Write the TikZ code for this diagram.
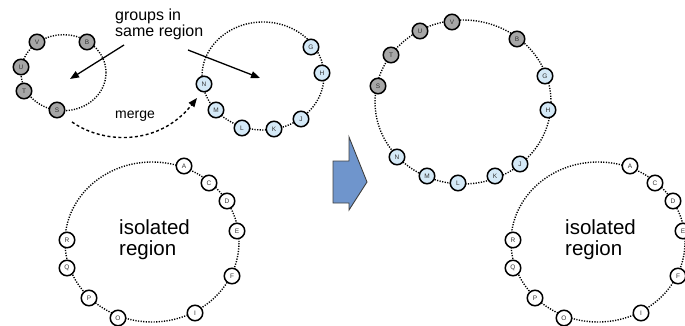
\documentclass[tikz,border=0pt]{standalone}
\usepackage{fontspec}
\setmainfont{Liberation Sans}
\usetikzlibrary{arrows.meta}
\definecolor{grpgray}{HTML}{A6A6A6}
\definecolor{grpblue}{HTML}{D4E9F7}
\definecolor{blockblue}{HTML}{6F95CC}
\tikzset{
  member/.style={circle, draw=black, line width=1.5pt, minimum size=15.5pt, inner sep=0pt,
    fill=white, text=black!80, font=\fontsize{6.5}{6.5}\selectfont},
  graymember/.style={member, fill=grpgray},
  bluemember/.style={member, fill=grpblue},
  ring/.style={line width=1.4pt, dash pattern=on 1.2pt off 1.4pt},
  pointer/.style={line width=1.3pt, -{Triangle[length=9pt,width=7pt]}},
  mergearrow/.style={line width=1.4pt, dash pattern=on 3pt off 2.5pt, -{Triangle[length=9pt,width=7pt]}},
  label/.style={inner sep=0pt, align=left},
}
\begin{document}
\begin{tikzpicture}[x=1pt,y=1pt]
\useasboundingbox (0,0) rectangle (685,-326);
\clip (0,0) rectangle (685,-326);

% ---- before the merge: two groups sharing a region ----
\draw[ring] (63.5,-72.7) ellipse [x radius=42.5, y radius=38];
\node[graymember] (V1) at (37,-42) {V};
\node[graymember] (B1) at (87,-42) {B};
\node[graymember] (U1) at (21,-67) {U};
\node[graymember] (T1) at (24,-91) {T};
\node[graymember] (S1) at (57,-110) {S};

\draw[ring] (263,-76) ellipse [x radius=61, y radius=54];
\node[bluemember] (G1) at (311,-47) {G};
\node[bluemember] (H1) at (322,-73) {H};
\node[bluemember] (J1) at (301,-119) {J};
\node[bluemember] (K1) at (274,-129) {K};
\node[bluemember] (L1) at (242,-128) {L};
\node[bluemember] (M1) at (216,-110) {M};
\node[bluemember] (N1) at (204,-84) {N};

\node[label, anchor=north west, font=\fontsize{16}{16}\selectfont] (groupstxt) at (115,-9) {groups in\\same region};
\coordinate (p1a) at (124,-45);
\coordinate (p1b) at (70,-79);
\coordinate (p2a) at (188,-50);
\coordinate (p2b) at (260,-78);
\draw[pointer] (p1a) -- (p1b);
\draw[pointer] (p2a) -- (p2b);

\node[label, anchor=base west, font=\fontsize{14}{14}\selectfont] (mergetxt) at (115,-118.3) {merge};
\coordinate (mstart) at (72,-122);
\coordinate (mend) at (197,-98);
\draw[mergearrow] (mstart) .. controls (105,-145) and (160,-145) .. (mend);

% ---- isolated region (left) ----
\begin{scope}[shift={(0,0)}]
\draw[ring] (152,-242) ellipse [x radius=87, y radius=80];
\node[member] (A1) at (184,-166) {A};
\node[member] (C1) at (209,-183) {C};
\node[member] (D1) at (227,-201) {D};
\node[member] (E1) at (237,-231) {E};
\node[member] (F1) at (232,-276) {F};
\node[member] (I1) at (195,-313) {I};
\node[member] (O1) at (118,-318) {O};
\node[member] (P1) at (89,-298) {P};
\node[member] (Q1) at (67,-268) {Q};
\node[member] (R1) at (67,-240) {R};
\node[label, anchor=north west, font=\fontsize{20.5}{21.5}\selectfont] (isotxt1) at (119,-219) {isolated\\region};
\end{scope}

% ---- block arrow ----
\node[inner sep=0pt] (blockarrow) at (350,-173.5) {};
\draw[draw=black!75, line width=0.9pt, fill=blockblue]
  (333,-161) -- (349,-161) -- (349,-137) -- (367,-182) -- (349,-210) -- (349,-203) -- (333,-203) -- cycle;

% ---- after the merge: one group ----
\draw[ring] (463,-102) ellipse [x radius=88, y radius=82];
\node[graymember] (V2) at (452,-22) {V};
\node[graymember] (U2) at (420,-31) {U};
\node[graymember] (T2) at (391,-55) {T};
\node[graymember] (S2) at (378,-86) {S};
\node[graymember] (B2) at (517,-39) {B};
\node[bluemember] (G2) at (545,-76) {G};
\node[bluemember] (H2) at (548,-110) {H};
\node[bluemember] (J2) at (520,-164) {J};
\node[bluemember] (K2) at (495,-176) {K};
\node[bluemember] (L2) at (458,-183) {L};
\node[bluemember] (M2) at (427,-176) {M};
\node[bluemember] (N2) at (397,-157) {N};

% ---- isolated region (right) ----
\begin{scope}[shift={(446,0)}]
\draw[ring] (152,-242) ellipse [x radius=87, y radius=80];
\node[member] (A2) at (184,-166) {A};
\node[member] (C2) at (209,-183) {C};
\node[member] (D2) at (227,-201) {D};
\node[member] (E2) at (237,-231) {E};
\node[member] (F2) at (232,-276) {F};
\node[member] (I2) at (195,-313) {I};
\node[member] (O2) at (118,-318) {O};
\node[member] (P2) at (89,-298) {P};
\node[member] (Q2) at (67,-268) {Q};
\node[member] (R2) at (67,-240) {R};
\node[label, anchor=north west, font=\fontsize{20.5}{21.5}\selectfont] (isotxt2) at (119,-219) {isolated\\region};
\end{scope}
\end{tikzpicture}
\end{document}
